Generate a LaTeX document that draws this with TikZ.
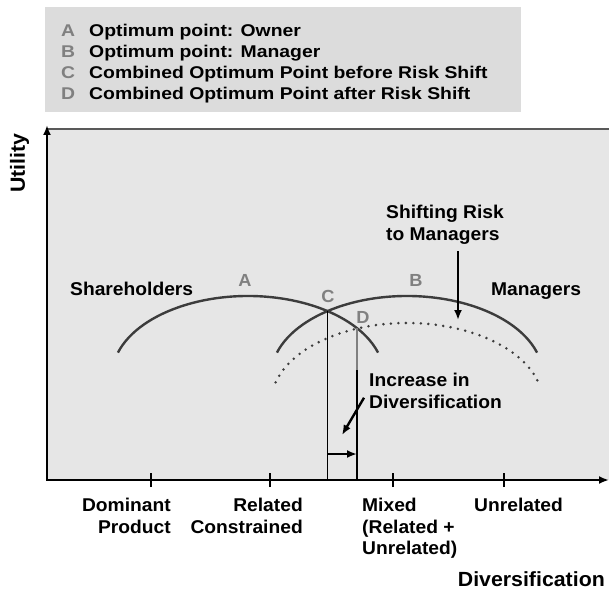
\documentclass[tikz,border=0pt]{standalone}
\usepackage{fontspec}
\setmainfont{Liberation Sans}[FakeStretch=1.04]
\newfontfamily\legendfont{Liberation Sans}[FakeStretch=1.14]
\usetikzlibrary{calc,arrows.meta}

\definecolor{legendbg}{HTML}{DCDCDC}
\definecolor{plotbg}{HTML}{E6E6E6}
\definecolor{curvegray}{HTML}{3C3C3C}
\definecolor{ptgray}{HTML}{808080}

\tikzset{
  lbl/.style={inner sep=0pt, font=\fontsize{18.5}{21.5}\selectfont\bfseries},
  axislbl/.style={inner sep=0pt, font=\fontsize{20.5}{24}\selectfont\bfseries},
  ptlbl/.style={inner sep=0pt, anchor=base, text=ptgray, font=\fontsize{17.5}{20}\selectfont\bfseries},
  keyrow/.style={inner sep=0pt, anchor=base west, font=\legendfont\fontsize{17}{20}\selectfont\bfseries},
  keyletter/.style={inner sep=0pt, anchor=base, text=ptgray, font=\legendfont\fontsize{17}{20}\selectfont\bfseries},
  utilcurve/.style={draw=curvegray, line width=2.4pt},
}

\begin{document}
\begin{tikzpicture}[x=1pt,y=1pt,>={Latex[length=10pt,width=8pt]}]
    \useasboundingbox (0,0) rectangle (609,590);

    % key to the points
    \fill[legendbg] (45,478) rectangle (521,583);
    \node[keyletter] (keyA) at (68,553) {A};
    \node[keyrow] (rowA) at (89,553) {Optimum point: Owner};
    \node[keyletter] (keyB) at (68,532) {B};
    \node[keyrow] (rowB) at (89,532) {Optimum point: Manager};
    \node[keyletter] (keyC) at (68,511) {C};
    \node[keyrow] (rowC) at (89,511) {Combined Optimum Point before Risk Shift};
    \node[keyletter] (keyD) at (68,490) {D};
    \node[keyrow] (rowD) at (89,490) {Combined Optimum Point after Risk Shift};

    % plot area and axes
    \fill[plotbg] (47,110) rectangle (609,461);
    \draw[black!65, line width=1.3pt] (47,461) -- (609,461);

    \coordinate (origin) at (47,110);
    \coordinate (ytop) at (47,465);
    \coordinate (xend) at (609,110);
    \draw[<->, line width=2.8pt] (ytop) -- (origin) -- (xend);

    \draw[line width=1.3pt] (151,103) -- (151,117);
    \draw[line width=1.3pt] (270,103) -- (270,117);
    \draw[line width=1.3pt] (393,103) -- (393,117);
    \draw[line width=1.3pt] (504,103) -- (504,117);

    \node[axislbl, rotate=90] (ylabel) at (19.5,427) {Utility};
    \node[axislbl, anchor=north east] (xlabel) at (605,19) {Diversification};

    \node[lbl, anchor=north east, align=right] (dominant) at (171,92) {Dominant\\Product};
    \node[lbl, anchor=north east, align=right] (related) at (303,92) {Related\\Constrained};
    \node[lbl, anchor=north west, align=left] (mixed) at (362,92) {Mixed\\(Related +\\Unrelated)};
    \node[lbl, anchor=north west] (unrelated) at (474,92) {Unrelated};

    % utility curves
    \draw[utilcurve] (248,214) ++(163:136 and 80)
        arc[start angle=163, end angle=17, x radius=136, y radius=80];
    \draw[utilcurve] (407,214) ++(163:136 and 80)
        arc[start angle=163, end angle=17, x radius=136, y radius=80];
    \draw[curvegray, line width=2.8pt, line cap=round, dash pattern=on 0pt off 7.5pt]
        (407,187) ++(165:136 and 80)
        arc[start angle=165, end angle=15, x radius=136, y radius=80];

    \node[lbl, anchor=north west] (share) at (70,308) {Shareholders};
    \node[lbl, anchor=north west] (mgr) at (491,307) {Managers};
    \node[ptlbl] (ptA) at (245,304) {A};
    \node[ptlbl] (ptB) at (416,304) {B};
    \node[ptlbl] (ptC) at (328,288) {C};
    \node[ptlbl] (ptD) at (363,267) {D};

    % optimum points and the shift between them
    \coordinate (C) at (327.5,278.9);
    \coordinate (D) at (357,261.6);
    \draw[line width=1.3pt] (C) -- (C |- origin);
    \draw[black!50, line width=1.3pt] (D) -- ++(0,-42) coordinate (Dmid);
    \draw[line width=1.3pt] (Dmid) -- (D |- origin);
    \draw[->, line width=2.4pt] (C |- 0,136) -- (D |- 0,136);

    \node[lbl, anchor=north west, align=left] (incr) at (369,217) {Increase in\\Diversification};
    \coordinate (incrhead) at (342,155);
    \draw[->, line width=2.4pt] ($(incr.west)+(-5,-7)$) -- (incrhead);

    \node[lbl, anchor=north west, align=left] (risk) at (386,385) {Shifting Risk\\to Managers};
    \coordinate (riskhead) at (458,270);
    \draw[->, line width=2.4pt] ([yshift=-7pt]risk.south -| riskhead) -- (riskhead);
\end{tikzpicture}
\end{document}
